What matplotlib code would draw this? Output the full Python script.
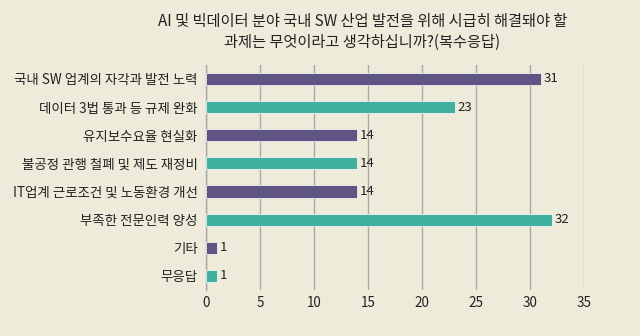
import matplotlib
matplotlib.use("Agg")
import matplotlib.pyplot as plt

plt.rcParams['font.family'] = ['Noto Sans CJK KR', 'DejaVu Sans']

categories = ["국내 SW 업계의 자각과 발전 노력", "데이터 3법 통과 등 규제 완화", "유지보수요율 현실화",
              "불공정 관행 철폐 및 제도 재정비", "IT업계 근로조건 및 노동환경 개선", "부족한 전문인력 양성",
              "기타", "무응답"]
values = [31, 23, 14, 14, 14, 32, 1, 1]
xticks = [0, 5, 10, 15, 20, 25, 30, 35]
title = "AI 및 빅데이터 분야 국내 SW 산업 발전을 위해 시급히 해결돼야 할\n과제는 무엇이라고 생각하십니까?(복수응답)"

bg = "#EEEBDB"
purple = "#5E5585"
teal = "#41B09E"
colors = [purple if i % 2 == 0 else teal for i in range(len(categories))]

fig = plt.figure(figsize=(6.4, 3.36), dpi=100, facecolor=bg)
ax = fig.add_axes([0.322, 0.137, 0.591, 0.67], facecolor=bg)

ypos = list(range(len(categories)))
ax.barh(ypos, values, height=0.43, color=colors, edgecolor="white", linewidth=0.5, zorder=3)
for y, v in zip(ypos, values):
    ax.text(v + 0.25, y, str(v), va="center", ha="left", fontsize=9.5, color="#222222")

ax.set_xlim(0, 35)
ax.set_ylim(len(categories) - 0.5, -0.5)
ax.set_yticks(ypos)
ax.set_yticklabels(categories, fontsize=9.7, color="#222222")
ax.set_xticks(xticks)
ax.set_xticklabels([str(t) for t in xticks], fontsize=9.7, color="#222222")
ax.tick_params(axis="both", length=0, pad=4)
ax.tick_params(axis="y", pad=6)
ax.grid(axis="x", color="#A8A8A8", linewidth=1, zorder=0)
for s in ["top", "right", "bottom"]:
    ax.spines[s].set_visible(False)
ax.spines["left"].set_color("#A8A8A8")
ax.spines["left"].set_linewidth(1)

fig.text(0.566, 0.905, title, ha="center", va="center", fontsize=11, color="#222222", linespacing=1.3)

fig.savefig("out.png", dpi=100, facecolor=bg)
